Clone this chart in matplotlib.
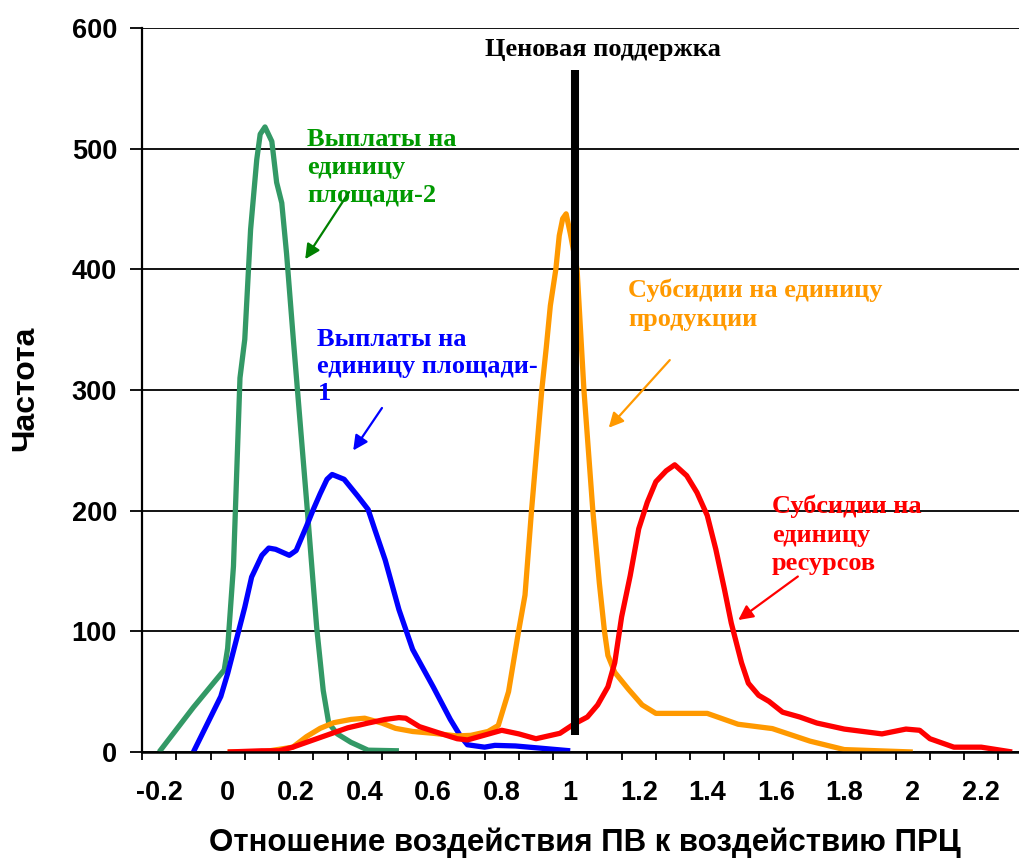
import matplotlib
matplotlib.use('Agg')
import matplotlib.pyplot as plt
import numpy as np

green_x = [-0.2, -0.1, -0.01, 0.0, 0.017, 0.036, 0.05, 0.067, 0.085, 0.095, 0.109, 0.129, 0.143,
           0.158, 0.172, 0.192, 0.211, 0.231, 0.26, 0.279, 0.295, 0.32, 0.36, 0.41, 0.5]
green_y = [0, 37, 68, 86, 154, 310, 342, 433, 491, 512, 518, 506, 472,
           455, 413, 341, 275, 206, 103, 51, 24, 15, 8, 1.5, 1]

blue_x = [-0.1, -0.02, 0.0, 0.02, 0.05, 0.07, 0.1, 0.12, 0.14, 0.18, 0.2, 0.23, 0.25, 0.27, 0.29,
          0.305, 0.34, 0.38, 0.41, 0.43, 0.46, 0.5, 0.54, 0.6, 0.65, 0.68, 0.7, 0.75, 0.78, 0.84, 1.0]
blue_y = [0, 46, 65, 87, 120, 145, 163, 169, 168, 163, 167, 187, 201, 214, 226,
          230, 226, 212, 201, 184, 159, 118, 85, 54, 27, 13, 6, 4, 5.5, 5, 1]

orange_x = [0.0, 0.1, 0.19, 0.23, 0.27, 0.31, 0.36, 0.4, 0.45, 0.49, 0.54, 0.6, 0.67, 0.71, 0.76,
            0.79, 0.82, 0.848, 0.868, 0.887, 0.917, 0.93, 0.942, 0.958, 0.968, 0.978, 0.988,
            1.0, 1.02, 1.04, 1.066, 1.085, 1.1, 1.11, 1.13, 1.17, 1.21, 1.25, 1.4, 1.43, 1.49,
            1.59, 1.7, 1.8, 2.0]
orange_y = [0, 0, 4, 12.7, 19.6, 24.3, 27, 28, 24, 19.6, 17, 15.5, 13.3, 13.8, 17,
            22, 50, 98, 130, 200, 300, 335, 370, 400, 428, 442, 446,
            430, 400, 300, 200, 140, 100, 80, 66, 52, 39, 32, 32, 29, 23,
            19.4, 9, 2, 0]

red_x = [0.0, 0.1, 0.15, 0.19, 0.25, 0.3, 0.35, 0.41, 0.46, 0.5, 0.52, 0.56, 0.62, 0.67, 0.7, 0.75,
         0.8, 0.85, 0.9, 0.97, 1.01, 1.05, 1.08, 1.11, 1.13, 1.15, 1.175, 1.2, 1.225, 1.25, 1.28,
         1.305, 1.34, 1.37, 1.4, 1.425, 1.45, 1.47, 1.5, 1.52, 1.55, 1.58, 1.62, 1.67, 1.72, 1.8,
         1.91, 1.98, 2.02, 2.05, 2.12, 2.2, 2.29]
red_y = [0, 1, 1, 4, 10, 15, 20, 24, 27, 28.5, 28, 21, 15.5, 11, 10, 14,
         18, 15, 11, 15.5, 23, 29, 39, 54, 74, 112, 146, 185, 207, 224, 233,
         238, 229, 215, 196, 168, 135, 107, 74, 57, 47, 42, 33, 29, 24, 19,
         15, 19, 18, 11, 4, 4, 0]

support_x = 1.015
support_y = [14, 565]

xtick_labels = ['-0.2', '0', '0.2', '0.4', '0.6', '0.8', '1', '1.2', '1.4', '1.6', '1.8', '2', '2.2']
label_pos = [-0.2, 0.0, 0.2, 0.4, 0.6, 0.8, 1.0, 1.2, 1.4, 1.6, 1.8, 2.0, 2.2]

plt.rcParams['font.family'] = ['Liberation Sans', 'DejaVu Sans']
serif = ['Liberation Serif', 'DejaVu Serif']

fig = plt.figure(figsize=(10.19, 8.58), dpi=100)
ax = fig.add_axes([142 / 1019, 106 / 858, 877 / 1019, 724 / 858])

ax.set_xlim(-0.25, 2.31)
ax.set_ylim(0, 600)

ax.yaxis.grid(True, color='black', lw=1.3)
ax.set_axisbelow(True)

lw = 3.8
ax.plot(green_x, green_y, color='#339966', lw=lw, solid_joinstyle='round', solid_capstyle='butt')
ax.plot(blue_x, blue_y, color='#0000FF', lw=lw, solid_joinstyle='round', solid_capstyle='butt')
ax.plot(orange_x, orange_y, color='#FF9900', lw=lw, solid_joinstyle='round', solid_capstyle='butt')
ax.plot(red_x, red_y, color='#FF0000', lw=lw, solid_joinstyle='round', solid_capstyle='butt')
ax.plot([support_x, support_x], support_y, color='black', lw=5.8, solid_capstyle='butt')

# ticks: marks at category edges, labels in between
ax.set_xticks(np.arange(-0.25, 2.3, 0.1))
ax.set_xticklabels([])
ax.set_xticks(label_pos, minor=True)
ax.set_xticklabels(xtick_labels, minor=True, fontsize=19.5, fontweight='bold')
ax.tick_params(axis='x', which='major', direction='out', length=6, width=1.3)
ax.tick_params(axis='x', which='minor', length=0, pad=20)

ax.set_yticks(np.arange(0, 601, 100))
ax.set_yticklabels([str(v) for v in range(0, 601, 100)], fontsize=19.5, fontweight='bold')
ax.tick_params(axis='y', direction='out', length=9, width=1.3, pad=9)

for s in ['top', 'right']:
    ax.spines[s].set_visible(False)
ax.spines['left'].set_linewidth(1.6)
ax.spines['bottom'].set_linewidth(1.8)

fig.text(585 / 1019, 1 - 843 / 858, 'Отношение воздействия ПВ к воздействию ПРЦ',
         ha='center', va='center', fontsize=22.5, fontweight='bold')
fig.text(25 / 1019, 1 - 388 / 858, 'Частота', rotation=90,
         ha='center', va='center', fontsize=23, fontweight='bold')

# annotations
ax.text(1.096, 582, 'Ценовая поддержка', ha='center', va='center',
        fontsize=19, fontweight='bold', family=serif)

ax.text(0.233, 517, 'Выплаты на\nединицу\nплощади-2', ha='left', va='top',
        fontsize=19, fontweight='bold', color='#009900', family=serif, linespacing=1.27)
ax.annotate('', xy=(0.222, 406.5), xytext=(0.359, 466),
            arrowprops=dict(arrowstyle='-|>', color='#008000', lw=1.6, mutation_scale=22))

ax.text(0.262, 351, 'Выплаты на\nединицу площади-\n1', ha='left', va='top',
        fontsize=19, fontweight='bold', color='#0000FF', family=serif, linespacing=1.22)
ax.annotate('', xy=(0.362, 248), xytext=(0.455, 287),
            arrowprops=dict(arrowstyle='-|>', color='#0000FF', lw=1.6, mutation_scale=22))

ax.text(1.169, 392, 'Субсидии на единицу\nпродукции', ha='left', va='top',
        fontsize=19, fontweight='bold', color='#FF9900', family=serif, linespacing=1.3)
ax.annotate('', xy=(1.107, 267), xytext=(1.296, 326.5),
            arrowprops=dict(arrowstyle='-|>', color='#FF9900', lw=1.6, mutation_scale=22))

ax.text(1.589, 213, 'Субсидии на\nединицу\nресурсов', ha='left', va='top',
        fontsize=19, fontweight='bold', color='#FF0000', family=serif, linespacing=1.3)
ax.annotate('', xy=(1.484, 108), xytext=(1.671, 146.8),
            arrowprops=dict(arrowstyle='-|>', color='#FF0000', lw=1.6, mutation_scale=22))

fig.savefig('out.png', dpi=100)
